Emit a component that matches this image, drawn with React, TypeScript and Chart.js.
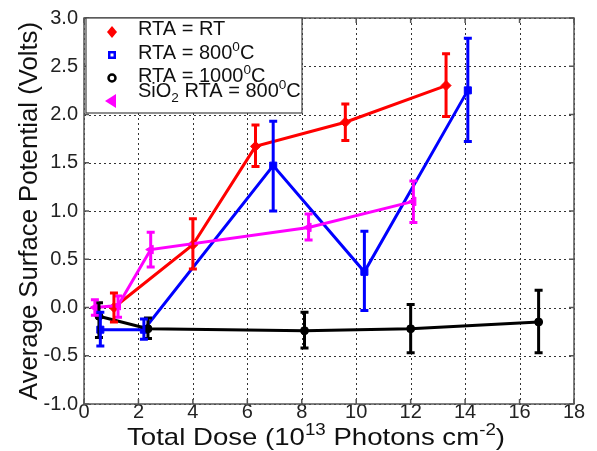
import React, { useEffect, useRef } from "react";
import { Chart, registerables } from "chart.js";
Chart.register(...registerables);

const xTicks = [0, 2, 4, 6, 8, 10, 12, 14, 16, 18];
const yTicks = [-1.0, -0.5, 0.0, 0.5, 1.0, 1.5, 2.0, 2.5, 3.0];

const rtDose = [1.1, 4.0, 6.3, 9.6, 13.3];
const rtV = [0.0, 0.65, 1.67, 1.92, 2.3];
const rtLow = [-0.15, 0.4, 1.46, 1.73, 1.98];
const rtHigh = [0.15, 0.92, 1.89, 2.11, 2.63];

const r800Dose = [0.6, 2.2, 6.95, 10.3, 14.1];
const r800V = [-0.23, -0.23, 1.47, 0.37, 2.25];
const r800Low = [-0.4, -0.33, 1.0, -0.03, 1.72];
const r800High = [-0.05, -0.12, 1.93, 0.79, 2.79];

const r1000Dose = [0.55, 2.35, 8.1, 12.0, 16.7];
const r1000V = [-0.09, -0.22, -0.24, -0.22, -0.15];
const r1000Low = [-0.31, -0.32, -0.42, -0.47, -0.47];
const r1000High = [0.05, -0.11, -0.05, 0.03, 0.18];

const sioDose = [0.4, 1.25, 2.45, 8.25, 12.1];
const sioV = [0.0, 0.02, 0.6, 0.83, 1.1];
const sioLow = [-0.08, -0.1, 0.42, 0.7, 0.88];
const sioHigh = [0.08, 0.12, 0.78, 0.97, 1.31];

const FONT = "'Liberation Sans', Arial, sans-serif";

const toPts = (xs: number[], ys: number[]) => xs.map((x, i) => ({ x, y: ys[i] }));

type Piece = [string, "n" | "sup" | "sub"];
function drawRich(ctx: CanvasRenderingContext2D, pieces: Piece[], x: number, y: number, size: number, align: "left" | "center", target?: number) {
  const small = size * 0.68;
  let total = 0;
  const widths = pieces.map(([t, m]) => {
    ctx.font = `${m === "n" ? size : small}px ${FONT}`;
    const w = ctx.measureText(t).width;
    total += w;
    return w;
  });
  const sx = target ? target / total : 1;
  ctx.save();
  ctx.translate(x, y);
  ctx.scale(sx, 1);
  let cx = align === "center" ? -total / 2 : 0;
  ctx.textBaseline = "alphabetic";
  ctx.textAlign = "left";
  pieces.forEach(([t, m], i) => {
    ctx.font = `${m === "n" ? size : small}px ${FONT}`;
    const dy = m === "sup" ? -size * 0.42 : m === "sub" ? size * 0.25 : 0;
    ctx.fillText(t, cx, dy);
    cx += widths[i];
  });
  ctx.restore();
}

const gridPlugin = {
  id: "dotgrid",
  beforeDatasetsDraw(chart: any) {
    const ctx = chart.ctx;
    const a = chart.chartArea;
    const xs = chart.scales.x;
    const ys = chart.scales.y;
    ctx.save();
    ctx.strokeStyle = "#333";
    ctx.lineWidth = 1;
    ctx.setLineDash([2, 3]);
    ctx.beginPath();
    xTicks.forEach((v) => {
      const px = Math.round(xs.getPixelForValue(v)) + 0.5;
      ctx.moveTo(px, a.top);
      ctx.lineTo(px, a.bottom);
    });
    yTicks.forEach((v) => {
      const py = Math.round(ys.getPixelForValue(v)) + 0.5;
      ctx.moveTo(a.left, py);
      ctx.lineTo(a.right, py);
    });
    ctx.stroke();
    ctx.restore();
  },
};

const errPlugin = {
  id: "errbars",
  afterDatasetsDraw(chart: any) {
    const ctx = chart.ctx;
    const ys = chart.scales.y;
    chart.data.datasets.forEach((ds: any, di: number) => {
      const meta = chart.getDatasetMeta(di);
      ctx.save();
      ctx.strokeStyle = ds.borderColor;
      ctx.lineWidth = 3;
      meta.data.forEach((pt: any, i: number) => {
        const x = pt.x;
        const y1 = ys.getPixelForValue(ds.errLow[i]);
        const y2 = ys.getPixelForValue(ds.errHigh[i]);
        ctx.beginPath();
        ctx.moveTo(x, y1);
        ctx.lineTo(x, y2);
        ctx.moveTo(x - 4, y1);
        ctx.lineTo(x + 4, y1);
        ctx.moveTo(x - 4, y2);
        ctx.lineTo(x + 4, y2);
        ctx.stroke();
      });
      ctx.restore();
    });
  },
};

const decorPlugin = {
  id: "decor",
  afterDraw(chart: any) {
    const ctx = chart.ctx;
    const a = chart.chartArea;
    const xs = chart.scales.x;
    const ys = chart.scales.y;
    ctx.save();
    ctx.strokeStyle = "#555";
    ctx.lineWidth = 1.5;
    ctx.strokeRect(a.left, a.top, a.right - a.left, a.bottom - a.top);
    ctx.beginPath();
    xTicks.forEach((v) => {
      const px = xs.getPixelForValue(v);
      ctx.moveTo(px, a.bottom);
      ctx.lineTo(px, a.bottom - 5);
      ctx.moveTo(px, a.top);
      ctx.lineTo(px, a.top + 5);
    });
    yTicks.forEach((v) => {
      const py = ys.getPixelForValue(v);
      ctx.moveTo(a.left, py);
      ctx.lineTo(a.left + 5, py);
      ctx.moveTo(a.right, py);
      ctx.lineTo(a.right - 5, py);
    });
    ctx.stroke();

    // legend
    const lx = 86, ly = 18, lw = 216, lh = 95;
    ctx.fillStyle = "#fff";
    ctx.fillRect(lx, ly, lw, lh);
    ctx.strokeStyle = "#444";
    ctx.lineWidth = 1.2;
    ctx.strokeRect(lx, ly, lw, lh);
    ctx.fillStyle = "#111";
    drawRich(ctx, [["RTA = RT", "n"]], 138, 35, 20, "left");
    drawRich(ctx, [["RTA = 800", "n"], ["0", "sup"], ["C", "n"]], 138, 59, 20, "left");
    drawRich(ctx, [["RTA = 1000", "n"], ["0", "sup"], ["C", "n"]], 138, 82, 20, "left");
    drawRich(ctx, [["SiO", "n"], ["2", "sub"], [" RTA = 800", "n"], ["0", "sup"], ["C", "n"]], 138, 97, 20, "left");
    const mx = 112;
    ctx.fillStyle = "#ff0000";
    ctx.beginPath();
    ctx.moveTo(mx, 26); ctx.lineTo(mx + 5, 32); ctx.lineTo(mx, 38); ctx.lineTo(mx - 5, 32); ctx.closePath();
    ctx.fill();
    ctx.fillStyle = "#0000ff";
    ctx.fillRect(mx - 4, 51, 8, 8);
    ctx.fillStyle = "#fff";
    ctx.fillRect(mx - 1.5, 53.5, 3, 3);
    ctx.strokeStyle = "#000";
    ctx.lineWidth = 2.5;
    ctx.beginPath();
    ctx.arc(mx, 78, 3.5, 0, Math.PI * 2);
    ctx.stroke();
    ctx.fillStyle = "#ff00ff";
    ctx.beginPath();
    ctx.moveTo(mx - 7, 101); ctx.lineTo(mx + 4, 94); ctx.lineTo(mx + 4, 108); ctx.closePath();
    ctx.fill();

    // axis titles
    ctx.fillStyle = "#111";
    drawRich(ctx, [["Total Dose (10", "n"], ["13", "sup"], [" Photons cm", "n"], ["-2", "sup"], [")", "n"]], 316, 445, 24, "center", 378);
    ctx.translate(37, 211);
    ctx.rotate(-Math.PI / 2);
    drawRich(ctx, [["Average Surface Potential (Volts)", "n"]], 0, 0, 25, "center", 378);
    ctx.restore();
  },
};

export default function App() {
  const ref = useRef<HTMLCanvasElement>(null);
  useEffect(() => {
    if (!ref.current) return;
    const mk = (data: any, color: string, style: string, rot: number, low: number[], high: number[], r: number) => ({
      data,
      borderColor: color,
      backgroundColor: color,
      borderWidth: 3,
      pointStyle: style,
      pointRotation: rot,
      pointRadius: r,
      pointBorderWidth: 1,
      showLine: true,
      tension: 0,
      errLow: low,
      errHigh: high,
    });
    const chart = new Chart(ref.current, {
      type: "scatter",
      data: {
        datasets: [
          mk(toPts(r1000Dose, r1000V), "#000000", "circle", 0, r1000Low, r1000High, 4),
          mk(toPts(sioDose, sioV), "#ff00ff", "triangle", -90, sioLow, sioHigh, 5),
          mk(toPts(r800Dose, r800V), "#0000ff", "rect", 0, r800Low, r800High, 5),
          mk(toPts(rtDose, rtV), "#ff0000", "rectRot", 0, rtLow, rtHigh, 5),
        ] as any,
      },
      options: {
        animation: false,
        responsive: false,
        maintainAspectRatio: false,
        layout: { padding: { left: 0, right: 23, top: 15, bottom: 0 } },
        plugins: { legend: { display: false }, tooltip: { enabled: false }, title: { display: false } },
        scales: {
          x: {
            type: "linear",
            min: 0,
            max: 18,
            afterBuildTicks: (s: any) => { s.ticks = xTicks.map((v) => ({ value: v })); },
            afterFit: (s: any) => { s.height = 47; },
            ticks: { font: { size: 20, family: FONT }, color: "#222", padding: -4, maxRotation: 0 },
            grid: { display: false, drawTicks: false, tickLength: 0 },
            border: { display: false },
          },
          y: {
            type: "linear",
            min: -1,
            max: 3,
            afterBuildTicks: (s: any) => { s.ticks = yTicks.map((v) => ({ value: v })); },
            afterFit: (s: any) => { s.width = 84; },
            ticks: { font: { size: 20, family: FONT }, color: "#222", padding: 6, callback: (v: any) => Number(v).toFixed(1) },
            grid: { display: false, drawTicks: false, tickLength: 0 },
            border: { display: false },
          },
        },
      } as any,
      plugins: [gridPlugin, errPlugin, decorPlugin],
    });
    return () => chart.destroy();
  }, []);
  return (
    <div style={{ position: "fixed", left: 0, top: 0, width: 597, height: 451, background: "#fff" }}>
      <canvas ref={ref} width={597} height={451} style={{ width: 597, height: 451 }} />
    </div>
  );
}
